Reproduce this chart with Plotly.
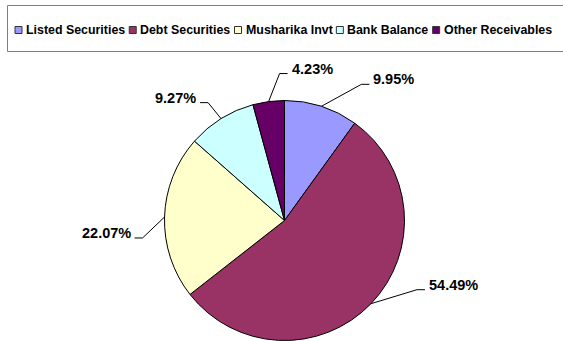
import math
import plotly.graph_objects as go

# ---- data ----
categories = ["Listed Securities", "Debt Securities", "Musharika Invt", "Bank Balance", "Other Receivables"]
shares = [9.95, 54.49, 22.07, 9.27, 4.23]
colors = ["#9999FF", "#993366", "#FFFFCC", "#CCFFFF", "#660066"]

# ---- layout constants (pixels, origin top-left) ----
W, H = 563, 341
CX, CY, R = 284.5, 220.5, 120
# elbow of each leader line, relative to the slice's outer-edge midpoint
label_offsets = [(40, -22), (46, -14), (-22, 21), (-13, -16), (11, -28)]
TICK = 8
LABEL_FONT = dict(family="Liberation Sans, Arial, sans-serif", size=14.5, color="black")
LEG_FONT_SIZE = 12.4
LEG_FONT = dict(family="Liberation Sans, Arial, sans-serif", size=LEG_FONT_SIZE, color="black")

# Arial/Liberation Sans Bold advance widths (1/1000 em)
BOLD_W = {" ": 278, "B": 722, "D": 722, "I": 278, "L": 611, "M": 833, "O": 778, "R": 722, "S": 667,
          "a": 556, "b": 611, "c": 556, "d": 611, "e": 556, "h": 611, "i": 278, "k": 556, "l": 278,
          "n": 611, "r": 389, "s": 556, "t": 333, "u": 611, "v": 556}


def text_w(s, size):
    return sum(BOLD_W.get(ch, 556) for ch in s) * size / 1000.0


def px(x):
    return x / W


def py(y):
    return 1 - y / H


fig = go.Figure(go.Pie(
    labels=categories, values=shares, sort=False, direction="clockwise", rotation=0,
    marker=dict(colors=colors, line=dict(color="black", width=1)),
    textinfo="none", hoverinfo="label+value", showlegend=False,
    domain=dict(x=[px(CX - R), px(CX + R)], y=[py(CY + R), py(CY - R)]),
))

shapes = []
annotations = []

# ---- leader lines + value labels ----
total = sum(shares)
cum = 0.0
for v, (dx, dy) in zip(shares, label_offsets):
    theta = 2 * math.pi * (cum + v / 2) / total
    cum += v
    ex, ey = CX + R * math.sin(theta), CY - R * math.cos(theta)
    bx, by = ex + dx, ey + dy
    side = 1 if dx >= 0 else -1
    tx = bx + side * TICK
    shapes.append(dict(type="path", xref="paper", yref="paper",
                       path=f"M {px(ex)} {py(ey)} L {px(bx)} {py(by)} L {px(tx)} {py(by)}",
                       line=dict(color="black", width=1)))
    annotations.append(dict(xref="paper", yref="paper", x=px(tx + side * 2), y=py(by - 5),
                            text=f"<b>{v:.2f}%</b>", showarrow=False,
                            xanchor="left" if side > 0 else "right", yanchor="middle",
                            font=LABEL_FONT))

# ---- legend (custom, Excel-like) ----
LEG_Y = 30
MARK = 7
x = 15
shapes.append(dict(type="rect", xref="paper", yref="paper",
                   x0=px(7.5), x1=px(575), y0=py(5.5), y1=py(51.5),
                   line=dict(color="#7f7f7f", width=1), fillcolor="rgba(0,0,0,0)"))
for name, col in zip(categories, colors):
    shapes.append(dict(type="rect", xref="paper", yref="paper",
                       x0=px(x), x1=px(x + MARK), y0=py(LEG_Y + MARK / 2), y1=py(LEG_Y - MARK / 2),
                       line=dict(color="#333333", width=1), fillcolor=col))
    tx = x + MARK + 2
    annotations.append(dict(xref="paper", yref="paper", x=px(tx), y=py(LEG_Y),
                            text=f"<b>{name}</b>", showarrow=False, xanchor="left", yanchor="middle",
                            font=LEG_FONT))
    x = tx + text_w(name, LEG_FONT_SIZE) + 6

fig.update_layout(
    width=W, height=H, margin=dict(l=0, r=0, t=0, b=0),
    paper_bgcolor="white", plot_bgcolor="white",
    showlegend=False, shapes=shapes, annotations=annotations,
)

fig.write_html("out.html")
